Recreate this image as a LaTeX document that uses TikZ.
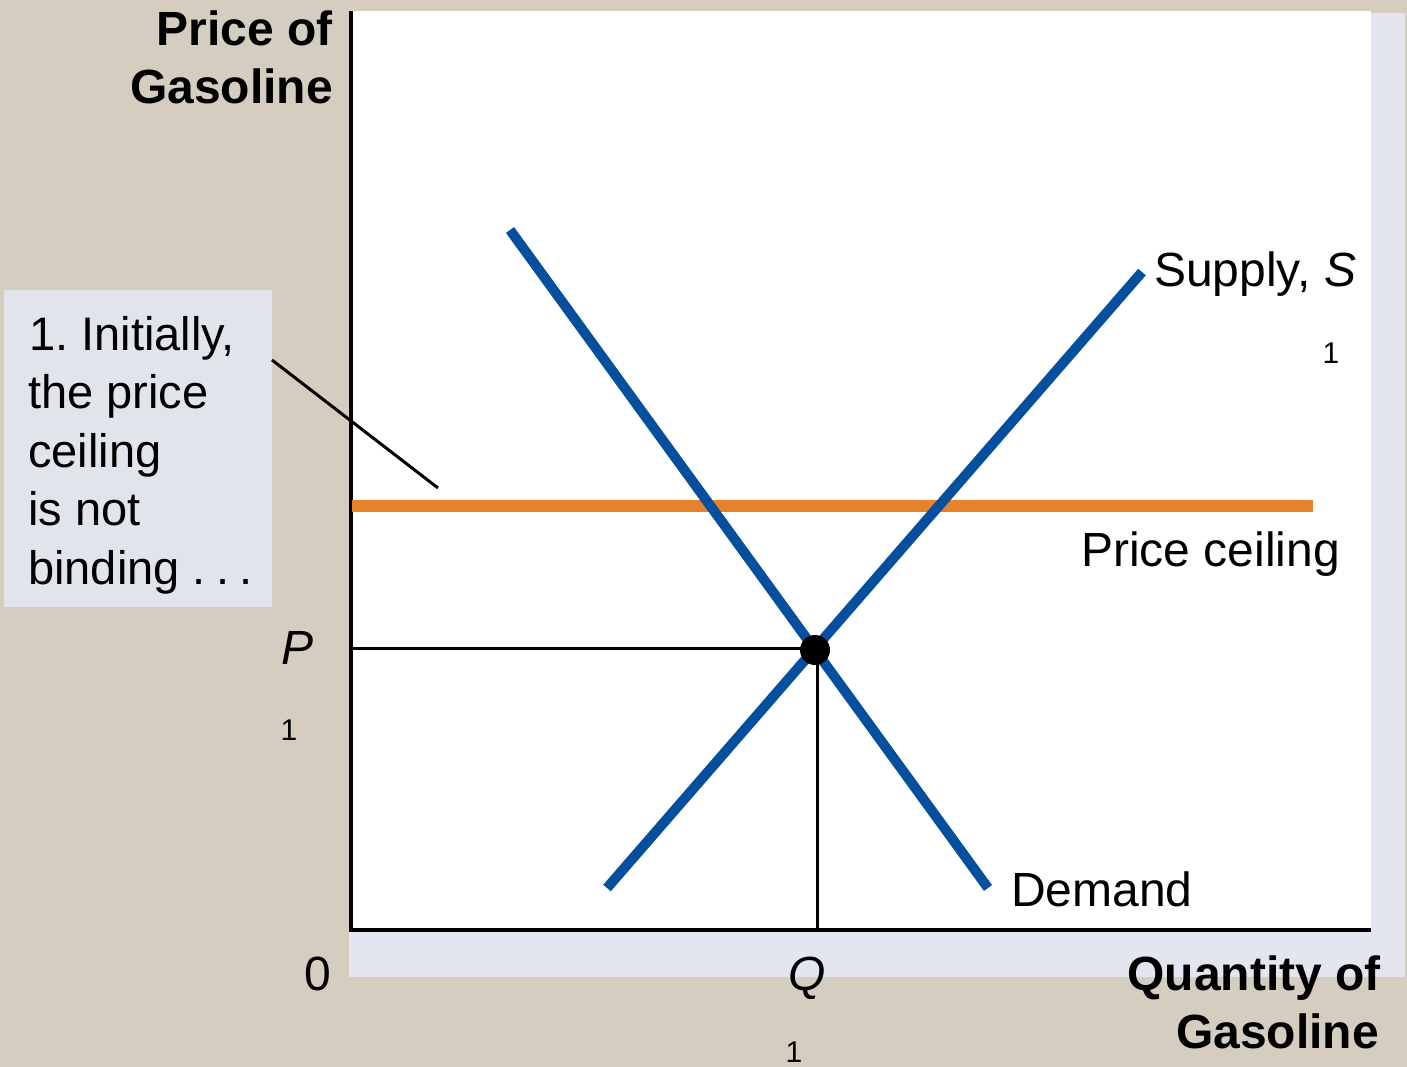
\documentclass[tikz,border=0pt]{standalone}
\usepackage{fontspec}
\setmainfont{Liberation Sans}
\definecolor{bgbeige}{HTML}{D6CDC1}
\definecolor{shadow}{HTML}{E3E6EE}
\definecolor{notebg}{HTML}{E1E4EA}
\definecolor{curveblue}{HTML}{064E9E}
\definecolor{ceilorange}{HTML}{E6822A}
\tikzset{
  lbl/.style={inner sep=0pt, font=\fontsize{48}{58.5}\selectfont},
  notelbl/.style={inner sep=0pt, font=\fontsize{47}{58.5}\selectfont},
  blbl/.style={inner sep=0pt, font=\fontsize{48}{58.5}\selectfont\bfseries},
  sub/.style={inner sep=0pt, font=\fontsize{30}{36}\selectfont},
  curve/.style={line width=10pt, draw=curveblue},
  axis/.style={line width=3.5pt, draw=black},
  guide/.style={line width=3pt, draw=black},
}
\begin{document}
\begin{tikzpicture}[x=1pt,y=-1pt]
\useasboundingbox (0,0) rectangle (1407,1067);
\fill[bgbeige] (0,0) rectangle (1407,1067);
% shadows and plot area
\fill[shadow] (1371,13) rectangle (1405,977);
\fill[shadow] (349,930) rectangle (1405,977);
\fill[white] (351,11) rectangle (1371,930);
% axes
\coordinate (origin) at (351,930);
\coordinate (ytop) at (351,11);
\coordinate (xend) at (1371,930);
\draw[axis] (ytop) -- (origin) -- (xend);
% price ceiling
\coordinate (ceilL) at (352,506);
\coordinate (ceilR) at (1313,506);
\draw[line width=12pt, draw=ceilorange] (ceilL) -- (ceilR);
% equilibrium guides
\coordinate (eq) at (815,650);
\coordinate (pAxis) at (351,648);
\coordinate (qAxis) at (817,930);
\draw[guide] (pAxis) -- (815,648);
\draw[guide] (817,650) -- (qAxis);
% supply and demand
\coordinate (sLow) at (607,888);
\coordinate (sHigh) at (1142,272);
\coordinate (dHigh) at (510,230);
\coordinate (dLow) at (988,888);
\draw[curve] (sLow) -- (sHigh);
\draw[curve] (dHigh) -- (dLow);
\fill[black] (eq) circle (15pt);
% annotation box
\node[fill=notebg, minimum width=268pt, minimum height=317pt, anchor=north west, inner sep=0pt] (note) at (4,290) {};
\node[notelbl, anchor=base west] (n1) at (29,350) {1.\kern0.28em Initially,};
\node[notelbl, anchor=base west] (n2) at (28,408) {the price};
\node[notelbl, anchor=base west] (n3) at (28,467) {ceiling};
\node[notelbl, anchor=base west] (n4) at (28,525) {is not};
\node[notelbl, anchor=base west] (n5) at (28,584) {binding .\kern0.22em.\kern0.22em.};
\coordinate (leadA) at (272,360);
\coordinate (leadB) at (438,488);
\draw[line width=3pt] (leadA) -- (leadB);
% axis titles
\node[blbl, anchor=base east] (yt1) at (333,46) {Price of};
\node[blbl, anchor=base east] (yt2) at (333,104) {Gasoline};
\node[blbl, anchor=base east] (xt1) at (1381,990) {Quantity of};
\node[blbl, anchor=base east] (xt2) at (1379,1048) {Gasoline};
% tick labels
\node[lbl, anchor=base] (zero) at (318,990) {0};
\node[lbl, anchor=base] (Qlab) at (807,990) {\itshape Q};
\node[sub, anchor=base] (Qsub) at (794,1062) {1};
\node[lbl, anchor=base] (Plab) at (298,664) {\itshape P};
\node[sub, anchor=base] (Psub) at (289,740) {1};
% curve labels
\node[lbl, anchor=base west] (supl) at (1154,287) {Supply, \itshape S};
\node[sub, anchor=base] (supsub) at (1331,363) {1};
\node[lbl, anchor=base west] (ceil) at (1081,566) {Price ceiling};
\node[lbl, anchor=base west] (dem) at (1011,906) {Demand};
\end{tikzpicture}
\end{document}
